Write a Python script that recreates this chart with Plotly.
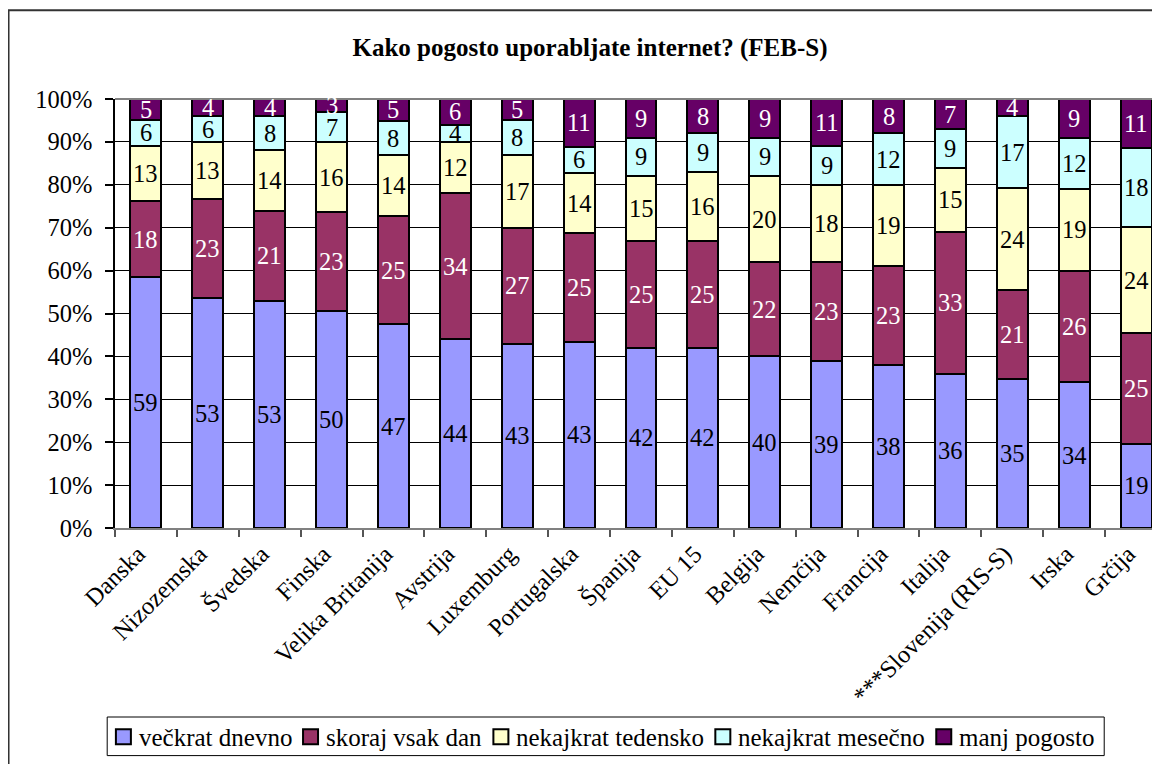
import plotly.graph_objects as go

categories = ["Danska", "Nizozemska", "Švedska", "Finska", "Velika Britanija", "Avstrija",
              "Luxemburg", "Portugalska", "Španija", "EU 15", "Belgija", "Nemčija",
              "Francija", "Italija", "***Slovenija (RIS-S)", "Irska", "Grčija"]

vecktrat_dnevno = [59, 53, 53, 50, 47, 44, 43, 43, 42, 42, 40, 39, 38, 36, 35, 34, 19]
skoraj_vsak_dan = [18, 23, 21, 23, 25, 34, 27, 25, 25, 25, 22, 23, 23, 33, 21, 26, 25]
nekajkrat_tedensko = [13, 13, 14, 16, 14, 12, 17, 14, 15, 16, 20, 18, 19, 15, 24, 19, 24]
nekajkrat_mesecno = [6, 6, 8, 7, 8, 4, 8, 6, 9, 9, 9, 9, 12, 9, 17, 12, 18]
manj_pogosto = [5, 4, 4, 3, 5, 6, 5, 11, 9, 8, 9, 11, 8, 7, 4, 9, 11]

series_names = ["večkrat dnevno", "skoraj vsak dan", "nekajkrat tedensko",
                "nekajkrat mesečno", "manj pogosto"]
series_values = [vecktrat_dnevno, skoraj_vsak_dan, nekajkrat_tedensko,
                 nekajkrat_mesecno, manj_pogosto]
series_colors = ["#9999FF", "#993366", "#FFFFCC", "#CCFFFF", "#660066"]
label_colors = ["black", "white", "black", "black", "white"]

title_text = "Kako pogosto uporabljate internet? (FEB-S)"

# ---- layout geometry (screenshot pixels; the page body adds an 8px offset) ----
W, H = 1160, 764
OFF = 8
CAT_W = 61.9
AX_X = 114.5
PL = AX_X - OFF
PR = AX_X + len(categories) * CAT_W - OFF
PT, PB = 98.7 - OFF, 527.7 - OFF
PW, PH = PR - PL, PB - PT
FONT = "Liberation Serif"
FS = 24.5

def fx(px):
    return (px - OFF - PL) / PW

def fy(py):
    return (PB - (py - OFF)) / PH

fig = go.Figure()
for name, vals, col in zip(series_names, series_values, series_colors):
    fig.add_trace(go.Bar(
        x=categories, y=vals, name=name,
        marker=dict(color=col, line=dict(color="black", width=2)),
        hovertemplate="%{x}: %{y}<extra>" + name + "</extra>",
    ))

# data labels centred in each (normalised) segment
totals = [sum(v[i] for v in series_values) for i in range(len(categories))]
base = [0.0] * len(categories)
for vals, lc in zip(series_values, label_colors):
    for i, cat in enumerate(categories):
        pct = vals[i] / totals[i] * 100
        fig.add_annotation(x=cat, y=base[i] + pct / 2, xref="x", yref="y",
                           text=str(vals[i]), showarrow=False,
                           font=dict(family=FONT, size=FS, color=lc),
                           xanchor="center", yanchor="middle")
        base[i] += pct

fig.update_layout(
    width=W, height=H,
    barmode="stack", barnorm="percent", bargap=0.5,
    margin=dict(l=PL, r=W - PR, t=PT, b=H - PB, pad=0),
    paper_bgcolor="white", plot_bgcolor="white",
    font=dict(family=FONT, size=FS, color="black"),
    title=dict(text="<b>" + title_text + "</b>", font=dict(family=FONT, size=25, color="black"),
               x=(590 - OFF) / W, xanchor="center", xref="container",
               y=1 - (47 - OFF) / H, yanchor="middle", yref="container"),
    xaxis=dict(type="category", range=[-0.5, len(categories) - 0.5],
               tickangle=-45, tickson="boundaries", ticks="outside", ticklen=7,
               tickcolor="#555555", tickwidth=1.5, ticklabelshift=-8,
               showline=True, linecolor="#808080", linewidth=2,
               showgrid=False, tickfont=dict(family=FONT, size=FS, color="black")),
    yaxis=dict(range=[0, 100], dtick=10, ticksuffix="%", ticks="outside", ticklen=8,
               tickcolor="black", tickwidth=1.5, ticklabelstandoff=8,
               showline=True, linecolor="black", linewidth=1.5,
               showgrid=True, gridcolor="black", gridwidth=1, zeroline=False,
               tickfont=dict(family=FONT, size=FS, color="black")),
    showlegend=False,
)

# outer chart frame (its right and bottom sides lie beyond the picture)
fig.add_shape(type="rect", xref="paper", yref="paper",
              x0=fx(8), x1=fx(1200), y0=fy(800), y1=fy(10),
              line=dict(color="#333333", width=2), fillcolor="rgba(0,0,0,0)", layer="below")
# plot area top border
fig.add_shape(type="line", xref="paper", yref="paper",
              x0=0, x1=1, y0=1, y1=1, line=dict(color="#808080", width=2), layer="above")

# legend (drawn box, swatches and real text labels)
LEG_L, LEG_R, LEG_T, LEG_B = 106.7, 1104, 716.7, 755.3
swatch_x = [115.4, 302.6, 493, 715, 936]
fig.add_shape(type="rect", xref="paper", yref="paper",
              x0=fx(LEG_L), x1=fx(LEG_R), y0=fy(LEG_B), y1=fy(LEG_T),
              line=dict(color="black", width=1), fillcolor="white")
cy = (LEG_T + LEG_B) / 2
for name, col, sx in zip(series_names, series_colors, swatch_x):
    fig.add_shape(type="rect", xref="paper", yref="paper",
                  x0=fx(sx), x1=fx(sx + 15), y0=fy(cy + 8), y1=fy(cy - 7),
                  line=dict(color="black", width=2), fillcolor=col)
    fig.add_annotation(x=fx(sx + 21), y=fy(cy + 1), xref="paper", yref="paper",
                       text=name, showarrow=False, xanchor="left", yanchor="middle",
                       font=dict(family=FONT, size=25, color="black"))

fig.write_html("out.html")
